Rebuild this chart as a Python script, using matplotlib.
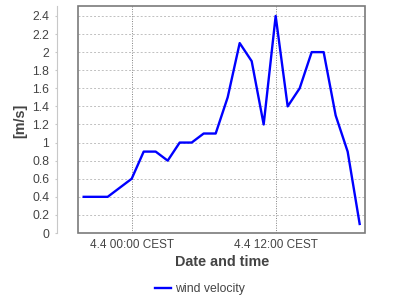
import matplotlib
matplotlib.use("Agg")
import matplotlib.pyplot as plt
from matplotlib.patches import Rectangle

# hours relative to 4.4 00:00 CEST
hours = [-4, -3, -2, 0, 1, 2, 3, 4, 5, 6, 7, 8, 9, 10, 11, 12, 13, 14, 15, 16, 17, 18, 19]
wind = [0.4, 0.4, 0.4, 0.6, 0.9, 0.9, 0.8, 1.0, 1.0, 1.1, 1.1, 1.5, 2.1, 1.9, 1.2, 2.4,
        1.4, 1.6, 2.0, 2.0, 1.3, 0.9, 0.1]
xtick_pos = [0, 12]
xtick_labels = ["4.4 00:00 CEST", "4.4 12:00 CEST"]
yticks = [0, 0.2, 0.4, 0.6, 0.8, 1, 1.2, 1.4, 1.6, 1.8, 2, 2.2, 2.4]
ytick_labels = ["0", "0.2", "0.4", "0.6", "0.8", "1", "1.2", "1.4", "1.6", "1.8", "2", "2.2", "2.4"]

plt.rcParams['font.family'] = ['Liberation Sans', 'DejaVu Sans']
fig = plt.figure(figsize=(4, 3), dpi=100)
ax = fig.add_axes([78.3/400, 67/300, 287/400, 227/300])

ax.plot(hours, wind, color='#0000ff', lw=1.7, label='wind velocity')
ax.set_xlim(-4.45, 19.47)
ax.set_ylim(0, 2.51)

ax.set_yticks(yticks)
ax.set_yticklabels(ytick_labels)
ax.set_xticks(xtick_pos)
ax.set_xticklabels(xtick_labels)

ax.grid(axis='y', color='#c0c0c0', linestyle=(0, (2, 2)), lw=0.7)
ax.grid(axis='x', color='#808080', linestyle=(0, (1, 1.5)), lw=0.7)

for s in ['top', 'right', 'bottom']:
    ax.spines[s].set_visible(False)
ax.spines['left'].set_position(('outward', 15.5))
ax.spines['left'].set_color('#c8c8c8')
ax.spines['left'].set_linewidth(0.8)
ax.add_patch(Rectangle((0, 0), 1, 1, transform=ax.transAxes, fill=False,
                       edgecolor='#7a7a7a', lw=1.2, clip_on=False, zorder=5))

ax.tick_params(axis='y', length=1.5, color='#c8c8c8', pad=4, labelsize=8.8, labelcolor='#444444')
ax.tick_params(axis='x', length=0, pad=4, labelsize=8.5, labelcolor='#444444')

fig.text(20/400, 1 - 121/300, '[m/s]', rotation=90, ha='center', va='center',
         fontsize=10.4, fontweight='bold', color='#444444')
fig.text(221.8/400, 1 - 262/300, 'Date and time', ha='center', va='center',
         fontsize=10.4, fontweight='bold', color='#444444')

fig.legend(loc='center', bbox_to_anchor=(200/400, 1 - 289/300), frameon=False,
           fontsize=8.8, handlelength=1.3, handletextpad=0.3, labelcolor='#444444')

fig.savefig('out.png', dpi=100)
